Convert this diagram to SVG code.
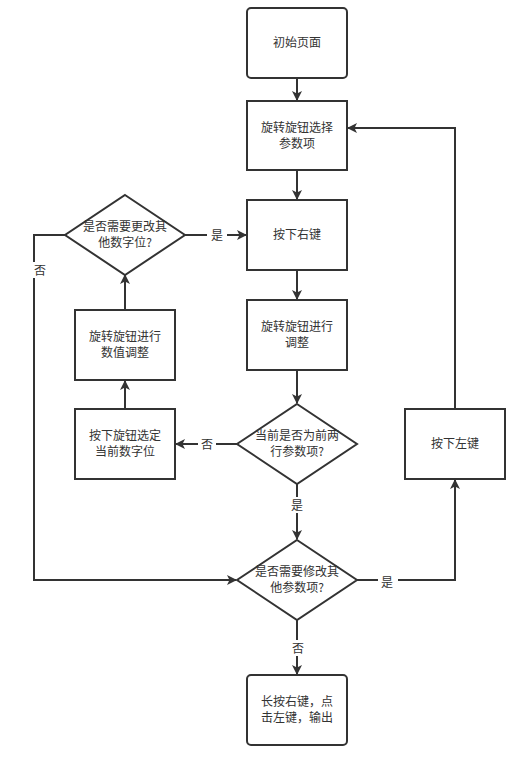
<svg xmlns="http://www.w3.org/2000/svg" width="532" height="759" viewBox="0 0 532 759">
<style>
.n{fill:#fff;stroke:#333;stroke-width:2}
.e{fill:none;stroke:#333;stroke-width:2}
text{font-family:"Noto Sans CJK SC","Liberation Sans",sans-serif;font-size:12px;fill:#333;text-anchor:middle}
.lb{fill:#fff;stroke:none}
</style>
<defs>
<marker id="a" markerWidth="10" markerHeight="10" refX="9" refY="5" orient="auto" markerUnits="userSpaceOnUse">
<path d="M0,0 L10,5 L0,10 L2.5,5 Z" fill="#333"/>
</marker>
</defs>
<rect width="532" height="759" fill="#fff"/>
<g id="connectors">
<path class="e" d="M297,78 V100" marker-end="url(#a)"/>
<path class="e" d="M297,170 V199" marker-end="url(#a)"/>
<path class="e" d="M297,270 V299" marker-end="url(#a)"/>
<path class="e" d="M297,370 V403" marker-end="url(#a)"/>
<path class="e" d="M297,484 V539" marker-end="url(#a)"/>
<path class="e" d="M237,444 H176" marker-end="url(#a)"/>
<path class="e" d="M125,409 V381" marker-end="url(#a)"/>
<path class="e" d="M125,310 V275" marker-end="url(#a)"/>
<path class="e" d="M184,235 H246" marker-end="url(#a)"/>
<path class="e" d="M65,235 H34 V580 H236" marker-end="url(#a)"/>
<path class="e" d="M357,580 H455 V480" marker-end="url(#a)"/>
<path class="e" d="M455,409 V128 H348" marker-end="url(#a)"/>
<path class="e" d="M297,620 V674" marker-end="url(#a)"/>
<rect class="lb" x="286" y="497" width="22" height="16"/>
<text x="297" y="510">是</text>
<rect class="lb" x="198" y="436" width="18" height="16"/>
<text x="207" y="449">否</text>
<rect class="lb" x="207" y="227" width="20" height="16"/>
<text x="217" y="240">是</text>
<rect class="lb" x="30" y="262" width="18" height="16"/>
<text x="40" y="275">否</text>
<rect class="lb" x="378" y="574" width="20" height="16"/>
<text x="387" y="587">是</text>
<rect class="lb" x="289" y="640" width="18" height="16"/>
<text x="298" y="653">否</text>
</g>
<g id="n1"><rect class="n" x="247" y="8" width="100" height="70" rx="4"/><text x="297" y="47">初始页面</text></g>
<g id="n2"><rect class="n" x="247" y="101" width="100" height="69"/><text x="297" y="132">旋转旋钮选择</text><text x="297" y="148">参数项</text></g>
<g id="n3"><rect class="n" x="247" y="200" width="100" height="70"/><text x="297" y="239">按下右键</text></g>
<g id="n4"><rect class="n" x="247" y="300" width="100" height="70"/><text x="297" y="331">旋转旋钮进行</text><text x="297" y="347">调整</text></g>
<g id="d1"><path class="n" d="M297,404 L357,444 L297,484 L237,444 Z"/><text x="297" y="440">当前是否为前两</text><text x="297" y="456">行参数项?</text></g>
<g id="d2"><path class="n" d="M297,540 L357,580 L297,620 L237,580 Z"/><text x="297" y="576">是否需要修改其</text><text x="297" y="592">他参数项?</text></g>
<g id="n5"><rect class="n" x="247" y="675" width="100" height="70" rx="4"/><text x="297" y="706">长按右键，点</text><text x="297" y="722">击左键，输出</text></g>
<g id="n6"><rect class="n" x="405" y="409" width="100" height="70"/><text x="455" y="448">按下左键</text></g>
<g id="d3"><path class="n" d="M125,195 L185,235 L125,275 L65,235 Z"/><text x="125" y="231">是否需要更改其</text><text x="125" y="247">他数字位?</text></g>
<g id="n7"><rect class="n" x="75" y="310" width="100" height="70"/><text x="125" y="341">旋转旋钮进行</text><text x="125" y="357">数值调整</text></g>
<g id="n8"><rect class="n" x="75" y="409" width="100" height="70"/><text x="125" y="440">按下旋钮选定</text><text x="125" y="456">当前数字位</text></g>
</svg>
